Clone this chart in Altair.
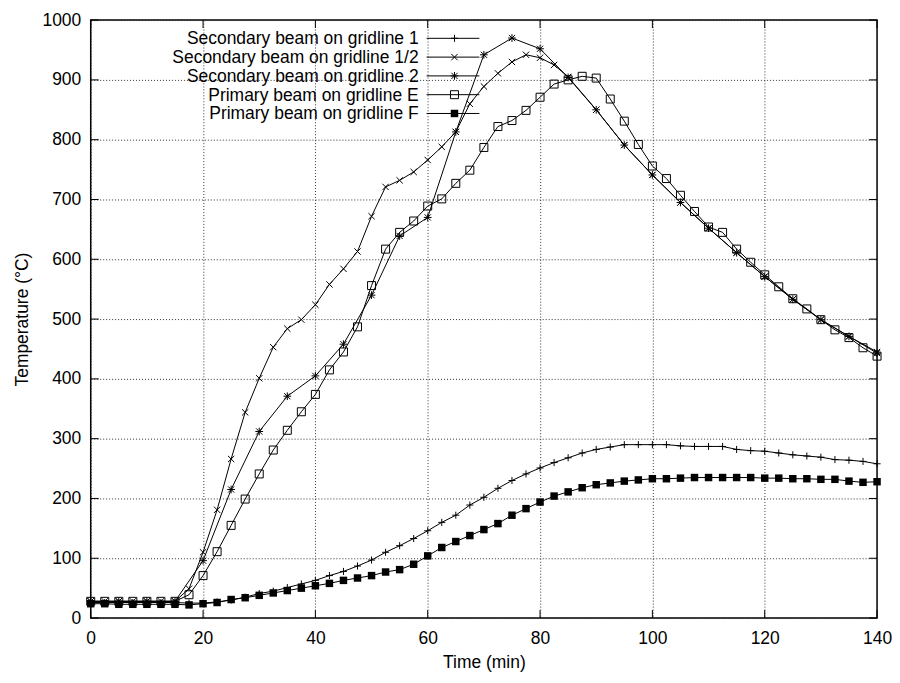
import altair as alt
import pandas as pd

# ---------------- data ----------------
t25 = [0, 2.5, 5, 7.5, 10, 12.5, 15, 17.5, 20, 22.5, 25, 27.5, 30, 32.5, 35, 37.5,
       40, 42.5, 45, 47.5, 50, 52.5, 55, 57.5, 60, 62.5, 65, 67.5, 70, 72.5, 75, 77.5,
       80, 82.5, 85, 87.5, 90, 92.5, 95, 97.5, 100, 102.5, 105, 107.5, 110, 112.5, 115,
       117.5, 120, 122.5, 125, 127.5, 130, 132.5, 135, 137.5, 140]

t_half = [0, 2.5, 5, 7.5, 10, 12.5, 15, 17.5, 20, 22.5, 25, 27.5, 30, 32.5, 35, 37.5,
          40, 42.5, 45, 47.5, 50, 52.5, 55, 57.5, 60, 62.5, 65, 67.5, 70, 72.5, 75, 77.5,
          80, 82.5, 85, 90, 95, 100, 105, 110, 115, 120, 125, 130, 135, 140]

t5 = [0, 5, 10, 15, 20, 25, 30, 35, 40, 45, 50, 55, 60, 65, 70, 75, 80, 85, 90, 95,
      100, 105, 110, 115, 120, 125, 130, 135, 140]

sec_1 = [26, 26, 26, 26, 26, 26, 26, 25, 25, 27,
         30, 35, 41, 45, 51, 57, 63, 71, 78, 87,
         97, 110, 121, 133, 146, 160, 172, 189, 202, 217,
         230, 241, 251, 260, 268, 276, 282, 286, 290, 290,
         290, 290, 288, 287, 287, 287, 282, 280, 279, 276,
         273, 271, 269, 265, 264, 262, 258]

sec_half = [28, 28, 28, 28, 28, 28, 28, 49, 110, 181,
            266, 344, 401, 453, 484, 499, 524, 558, 584, 613,
            672, 721, 732, 746, 766, 788, 813, 860, 889, 911,
            930, 942, 937, 925, 905,
            850, 791, 741, 695, 652, 611, 571, 533, 499, 471, 445]

sec_2 = [28, 28, 28, 28, 96, 215, 312, 371, 405, 458, 540, 639, 670, 813, 942,
         970, 952, 904, 850, 791, 741, 695, 652, 611, 571, 533, 499, 471, 443]

prim_E = [28, 28, 28, 28, 28, 28, 28, 39, 71, 111,
          155, 199, 241, 281, 314, 345, 374, 415, 445, 487,
          556, 617, 645, 664, 689, 701, 727, 749, 787, 822,
          832, 849, 871, 893, 900, 906, 903, 868, 831, 792,
          756, 735, 707, 680, 654, 645, 617, 595, 574, 554,
          534, 517, 499, 482, 469, 452, 438]

prim_F = [24, 24, 23, 23, 23, 23, 23, 22, 24, 26,
          31, 34, 38, 42, 46, 50, 54, 58, 63, 67,
          71, 77, 81, 90, 104, 118, 128, 138, 148, 158,
          172, 183, 194, 204, 211, 218, 223, 226, 229, 231,
          233, 233, 234, 235, 235, 235, 235, 235, 234, 234,
          233, 233, 232, 232, 229, 227, 228]

names = ["Secondary beam on gridline 1",
         "Secondary beam on gridline 1/2",
         "Secondary beam on gridline 2",
         "Primary beam on gridline E",
         "Primary beam on gridline F"]

x_ticks = [0, 20, 40, 60, 80, 100, 120, 140]
y_ticks = [0, 100, 200, 300, 400, 500, 600, 700, 800, 900, 1000]

# ---------------- styling ----------------
W, H = 789, 600
FONT = "Liberation Sans"
FS = 17.5

PLUS = "M-1,0L1,0M0,-1L0,1"
CROSS = "M-1,-1L1,1M-1,1L1,-1"
STAR = "M-1,0L1,0M0,-1L0,1M-0.8,-0.8L0.8,0.8M-0.8,0.8L0.8,-0.8"

styles = [
    dict(shape=PLUS, filled=False, size=50),
    dict(shape=CROSS, filled=False, size=40),
    dict(shape=STAR, filled=False, size=60),
    dict(shape="square", filled=False, size=64),
    dict(shape="square", filled=True, size=56),
]

series_t = [t25, t_half, t5, t25, t25]
series_v = [sec_1, sec_half, sec_2, prim_E, prim_F]

xscale = alt.Scale(domain=[0, 140], nice=False, zero=False)
yscale = alt.Scale(domain=[0, 1000], nice=False)
xaxis = alt.Axis(values=x_ticks, title="Time (min)", format="d")
yaxis = alt.Axis(values=y_ticks, title="Temperature (°C)", format="d")


def X(field):
    return alt.X(field, type="quantitative", scale=xscale, axis=xaxis)


def Y(field):
    return alt.Y(field, type="quantitative", scale=yscale, axis=yaxis)


layers = []

# inward ticks on all four borders (gnuplot style)
xt = pd.DataFrame({"v": x_ticks})
yt = pd.DataFrame({"v": y_ticks})
TL = 8
layers.append(alt.Chart(xt).mark_rule(color="black", strokeWidth=1).encode(
    x=X("v"), y=alt.value(H), y2=alt.value(H - TL)))
layers.append(alt.Chart(xt).mark_rule(color="black", strokeWidth=1).encode(
    x=X("v"), y=alt.value(0), y2=alt.value(TL)))
layers.append(alt.Chart(yt).mark_rule(color="black", strokeWidth=1).encode(
    y=Y("v"), x=alt.value(0), x2=alt.value(TL)))
layers.append(alt.Chart(yt).mark_rule(color="black", strokeWidth=1).encode(
    y=Y("v"), x=alt.value(W), x2=alt.value(W - TL)))

# data series
for name, ts, vs, st in zip(names, series_t, series_v, styles):
    df = pd.DataFrame({"t": ts, "T": vs, "series": name})
    base = alt.Chart(df)
    layers.append(base.mark_line(color="black", strokeWidth=1).encode(
        x=X("t"), y=Y("T")))
    if st["filled"]:
        pt = base.mark_point(shape=st["shape"], filled=True, color="black",
                             size=st["size"], opacity=1)
    else:
        pt = base.mark_point(shape=st["shape"], filled=False, stroke="black",
                             strokeWidth=1, size=st["size"], opacity=1)
    layers.append(pt.encode(x=X("t"), y=Y("T")))

# legend (top-left, gnuplot style: text right-aligned, then sample)
one = pd.DataFrame({"a": [0]})
for i, (name, st) in enumerate(zip(names, styles)):
    yy = 18.3 + 18.85 * i
    layers.append(alt.Chart(one).mark_text(
        align="right", baseline="middle", font=FONT, fontSize=FS, color="black", dy=1
    ).encode(x=alt.value(329), y=alt.value(yy), text=alt.value(name)))
    layers.append(alt.Chart(one).mark_rule(color="black", strokeWidth=1).encode(
        x=alt.value(337), x2=alt.value(390), y=alt.value(yy)))
    if st["filled"]:
        lp = alt.Chart(one).mark_point(shape=st["shape"], filled=True, color="black",
                                       size=st["size"], opacity=1)
    else:
        lp = alt.Chart(one).mark_point(shape=st["shape"], filled=False, stroke="black",
                                       strokeWidth=1, size=st["size"], opacity=1)
    layers.append(lp.encode(x=alt.value(365), y=alt.value(yy)))

chart = alt.layer(*layers).properties(
    width=W, height=H,
    autosize=alt.AutoSizeParams(type="none"),
    padding={"left": 83, "top": 11, "right": 15, "bottom": 55},
    background="white",
).configure_view(
    stroke="black", strokeWidth=1.5
).configure_axis(
    grid=True, gridColor="#333", gridDash=[1, 2], gridWidth=1, gridOpacity=1,
    ticks=False, domain=False, labelFlush=False, labelOverlap=False,
    labelFont=FONT, labelFontSize=FS, labelColor="black",
    titleFont=FONT, titleFontSize=FS, titleFontWeight="normal", titleColor="black",
).configure_axisX(
    labelPadding=12, titlePadding=6
).configure_axisY(
    labelPadding=10, titlePadding=10
)

chart.save("out.html", embed_options={"renderer": "svg", "actions": False})
